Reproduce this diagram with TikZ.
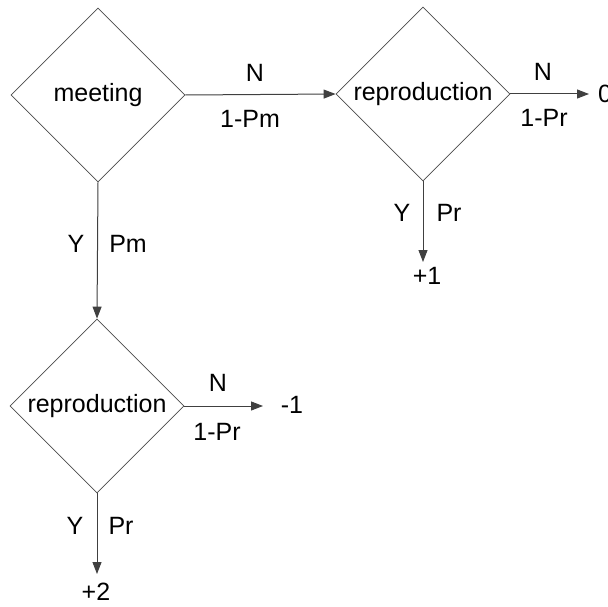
\documentclass[tikz,border=0pt]{standalone}
\usepackage{fontspec}
\setmainfont{Liberation Sans}
\usetikzlibrary{shapes.geometric,arrows.meta}
\begin{document}
\begin{tikzpicture}[x=1pt,y=-1pt,
  dec/.style={diamond,draw=black!70,line width=0.8pt,minimum width=174pt,minimum height=174pt,inner sep=0pt,font=\fontsize{25}{29}\selectfont},
  lbl/.style={font=\fontsize{25}{29}\selectfont,inner sep=0pt},
  arr/.style={draw=black!75,line width=1pt,-{Triangle[length=12pt,width=9pt]}}]
\useasboundingbox[fill=white] (0,0) rectangle (608,607);
\begin{scope}
\clip (0,0) rectangle (608,607);
\node[dec] (meet) at (98,95) {meeting};
\node[dec] (rep1) at (423,94) {reproduction};
\node[dec] (rep2) at (97,406) {reproduction};
\coordinate (t0) at (589,94);
\coordinate (t1) at (423,262);
\coordinate (tm1) at (263,406);
\coordinate (t2) at (97,574);
\node[lbl,anchor=west] (v0) at (598,94) {0};
\node[lbl] (v1) at (427,276) {+1};
\node[lbl] (vm1) at (292,405) {-1};
\node[lbl] (v2) at (96,592) {+2};
\draw[arr] (meet.east) -- (rep1.west);
\draw[arr] (meet.south) -- (rep2.north);
\draw[arr] (rep1.east) -- (t0);
\draw[arr] (rep1.south) -- (t1);
\draw[arr] (rep2.east) -- (tm1);
\draw[arr] (rep2.south) -- (t2);
\node[lbl] (l1) at (255,73) {N};
\node[lbl] (l2) at (250,119) {1-Pm};
\node[lbl] (l3) at (543,72) {N};
\node[lbl] (l4) at (544,118) {1-Pr};
\node[lbl] (l5) at (402,213) {Y};
\node[lbl] (l6) at (449,213) {Pr};
\node[lbl] (l7) at (76,244) {Y};
\node[lbl] (l8) at (128,244) {Pm};
\node[lbl] (l9) at (218,383) {N};
\node[lbl] (l10) at (217,432) {1-Pr};
\node[lbl] (l11) at (75,526) {Y};
\node[lbl] (l12) at (121,526) {Pr};
\end{scope}
\end{tikzpicture}
\end{document}
